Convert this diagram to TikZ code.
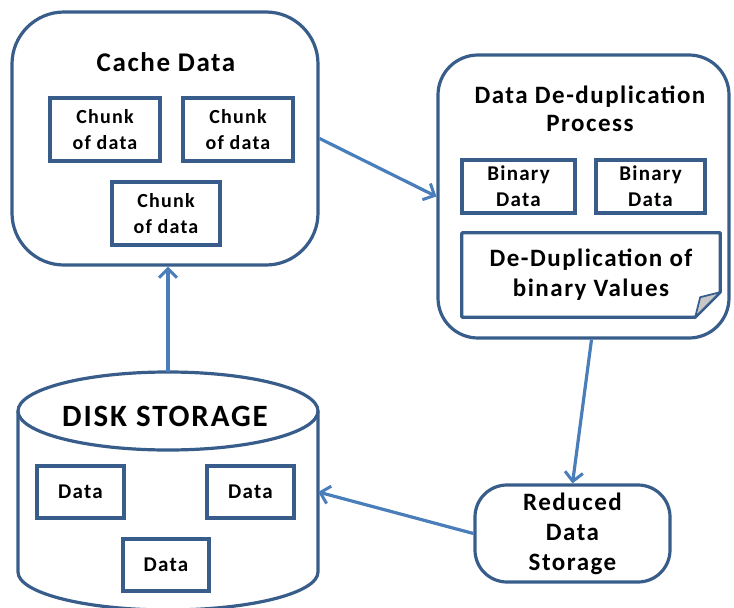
\documentclass[tikz,border=0pt]{standalone}
\usepackage{fontspec}
\setmainfont{Carlito}[LetterSpace=6]
\usetikzlibrary{arrows.meta}
\definecolor{boxblue}{RGB}{56,93,138}
\definecolor{arrowblue}{RGB}{74,126,187}
\definecolor{foldgray}{RGB}{200,200,200}

\begin{document}
\begin{tikzpicture}[x=1pt, y=-1pt,
  outline/.style={draw=boxblue, line width=3.2pt},
  bigbox/.style={outline, rounded corners=52pt, inner sep=0pt},
  smallbox/.style={outline, inner sep=0pt, align=center, font=\bfseries\fontsize{20}{26}\selectfont},
  flow/.style={draw=arrowblue, line width=3.2pt, -{Straight Barb[length=9pt, width=18pt, line width=3pt]}},
  title/.style={align=center, font=\bfseries\fontsize{25}{28}\selectfont}]
  \useasboundingbox (0,0) rectangle (734,608);

  % cache
  \node[bigbox, minimum width=306pt, minimum height=253pt] (cache) at (165,138.5) {};
  \node[title, font=\bfseries\fontsize{27}{28}\selectfont] (cachetitle) at (166,62) {Cache Data};
  \node[smallbox, minimum width=110pt, minimum height=63pt] (C1) at (105,129.5) {Chunk\\of data};
  \node[smallbox, minimum width=110pt, minimum height=63pt] (C2) at (238,129.5) {Chunk\\of data};
  \node[smallbox, minimum width=108pt, minimum height=63pt] (C3) at (166,213.5) {Chunk\\of data};

  % de-duplication
  \node[bigbox, rounded corners=40pt, minimum width=291pt, minimum height=283pt] (dedup) at (583.5,196.5) {};
  \node[title] (deduptitle) at (590,109) {Data De-duplication\\Process};
  \node[smallbox, font=\bfseries\fontsize{21}{26}\selectfont, minimum width=113pt, minimum height=53pt] (B1) at (518.5,186.5) {Binary\\Data};
  \node[smallbox, font=\bfseries\fontsize{21}{26}\selectfont, minimum width=109pt, minimum height=53pt] (B2) at (650.5,186.5) {Binary\\Data};
  \node[title, font=\bfseries\fontsize{25}{30}\selectfont, minimum width=258pt, minimum height=84pt, inner sep=0pt] (note) at (591,275) {De-Duplication of\\binary Values};
  \draw[outline, line join=round] (note.north west) -- (note.north east) -- ([yshift=25pt]note.south east)
    -- ([xshift=-25pt]note.south east) -- (note.south west) -- cycle;
  \fill[foldgray, draw=boxblue, line width=1.8pt, line join=round] ([xshift=-25pt]note.south east)
    -- ([xshift=-20pt, yshift=20pt]note.south east) -- ([yshift=25pt]note.south east) -- cycle;

  % reduced
  \node[bigbox, rounded corners=32pt, minimum width=195pt, minimum height=97pt, align=center,
    font=\bfseries\fontsize{25}{30}\selectfont] (reduced) at (572.5,533.5) {Reduced\\Data\\Storage};

  % disk
  \node[minimum width=300pt, minimum height=240pt, inner sep=0pt] (disk) at (168,492) {};
  \draw[outline] (168,411) ellipse [x radius=150pt, y radius=39pt];
  \draw[outline] (18,411) -- (18,572) arc[start angle=180, end angle=360, x radius=150pt, y radius=38pt] -- (318,411);
  \node[title, font=\bfseries\fontsize{31}{30}\selectfont] (disktitle) at (165,416) {DISK STORAGE};
  \node[smallbox, font=\bfseries\fontsize{21}{26}\selectfont, minimum width=87pt, minimum height=52pt] (D1) at (80.5,492) {Data};
  \node[smallbox, font=\bfseries\fontsize{21}{26}\selectfont, minimum width=87pt, minimum height=52pt] (D2) at (250.5,492) {Data};
  \node[smallbox, font=\bfseries\fontsize{21}{26}\selectfont, minimum width=86pt, minimum height=52pt] (D3) at (166,565) {Data};

  \draw[flow] (disk.north) -- (disk.north |- cache.south);
  \draw[flow] (cache.east) -- (dedup.west);
  \draw[flow] ([xshift=8pt]dedup.south) -- (reduced.north);
  \draw[flow] (reduced.west) -- (disk.east);
\end{tikzpicture}
\end{document}
